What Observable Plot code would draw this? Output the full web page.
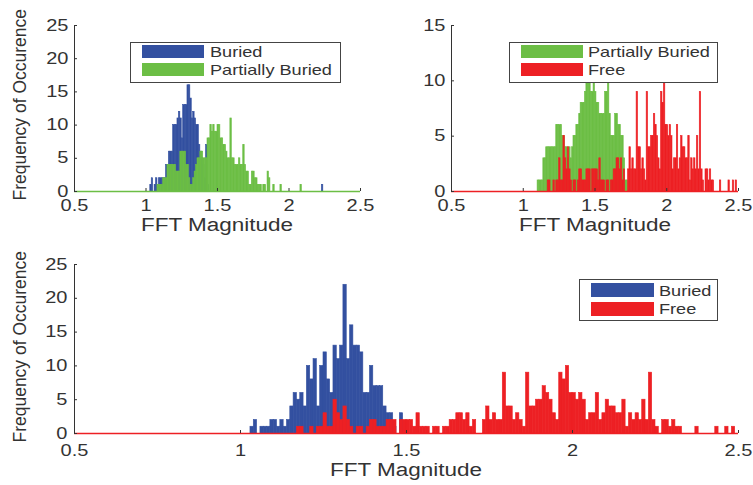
<!DOCTYPE html>
<html><head><meta charset="utf-8">
<script src="https://cdn.jsdelivr.net/npm/d3@7"></script>
<script src="https://cdn.jsdelivr.net/npm/@observablehq/plot@0.6"></script>
<style>
body{margin:0;background:#fff;}
#wrap{position:relative;width:753px;height:485px;overflow:hidden;font-family:"Liberation Sans",Arial,sans-serif;color:#333;background:#fff;}
.panel{position:absolute;}
.lab{position:absolute;white-space:nowrap;line-height:1;}
.legend{position:absolute;border:1px solid #444;background:#fff;box-sizing:border-box;}
.sw{position:absolute;}
.lt{position:absolute;white-space:nowrap;line-height:1;font-size:14.5px;transform-origin:left center;transform:scaleX(1.25);}
</style>
</head><body>
<div id="wrap"></div>
<script>
// ---------- data ----------
const BIN = 0.01;
const xTicks = [0.5, 1, 1.5, 2, 2.5];
const yTicks25 = [0, 5, 10, 15, 20, 25];
const yTicks15 = [0, 5, 10, 15];
const xLabel = "FFT Magnitude";
const yLabel = "Frequency of Occurence";
const colors = {"Buried": "#3350a0", "Partially Buried": "#6cbe45", "Free": "#ed2024"};

// top-left panel: Buried (first bin 1.03) and Partially Buried (first bin 1.08); isolated bins as [bin, count]
const tlBuriedStart = 1.03;
const tlBuriedCounts = [1,2,0,1,2,1,2,2,2,2,2,4,4,6,6,6,10,10,10,11,12,11,8,13,13,13,16,16,14,11,12,11,10,10,7,6,5,4,2,7,1];
const tlBuriedIsolated = [[2.23, 1]];
const tlPartialStart = 1.08;
const tlPartialCounts = [1,1,1,1,2,2,2,4,4,4,4,4,4,3,3,3,6,6,6,6,4,4,2,1,1,2,3,4,5,5,6,6,5,5,5,8,8,10,9,10,9,9,10,10,8,8,7,7,6,5,5,11,5,5,4,4,4,5,4,4,7,4,3,3,1,1,3,3,2,2,1,1,1,0,1,1,0,3,2,0,0,1,0,0,0,0,1];
const tlPartialIsolated = [[2.08, 1]];

// top-right panel: Partially Buried (first bin 1.10)
const trPartialStart = 1.10;
const trPartialCounts = [1,1,1,1,3,3,4,4,4,4,4,4,4,6,6,6,6,5,5,4,4,3,4,3,4,5,5,6,6,7,8,8,8,9,10,10,10,9,9,10,9,8,8,7,7,7,7,9,9,10,7,5,5,5,7,7,6,6,5,5,3,1,1];

// Free (first bin 1.17), shown in the top-right and bottom panels
const freeStart = 1.17;
const freeCounts = [1,1,0,0,1,0,1,1,3,1,1,5,3,2,4,2,1,0,1,1,0,1,2,2,1,1,1,2,2,2,0,2,2,2,2,1,3,1,1,1,0,1,1,0,1,1,2,2,3,3,2,3,1,2,0,0,2,4,2,3,2,2,9,4,
  4,2,3,2,1,9,4,4,5,5,7,6,5,3,2,9,8,10,6,6,5,6,5,2,3,3,6,2,3,5,4,4,3,3,5,1,3,2,3,2,5,2,9,2,1,0,2,2,1,2,1,1];
const freeIsolated = [[2.37, 1], [2.43, 1], [2.46, 1], [2.48, 1]];

// bottom panel: Buried (first bin 1.03)
const bBuriedStart = 1.03;
const bBuriedCounts = [1,2,0,1,1,1,2,2,1,2,1,2,4,6,5,6,4,10,8,11,4,10,12,8,6,13,11,13,22,11,16,13,13,12,6,6,10,7,7,7,4,3,3,1,0,3];

// ---------- helpers ----------
function bins(start, counts, isolated = []) {
  return counts.map((c, i) => ({x1: +(start + i * BIN).toFixed(2), count: c}))
    .concat(isolated.map(([x1, count]) => ({x1, count})))
    .filter(d => d.count > 0);
}

// MATLAB-like horizontally stretched text for tick labels (after the svg is in the DOM)
function stretchTicks(svg) {
  svg.querySelectorAll('g[aria-label="x-axis tick label"] text, g[aria-label="y-axis tick label"] text').forEach(t => {
    const parent = t.parentNode;
    const isY = parent.getAttribute("aria-label").startsWith("y");
    const r = t.getBoundingClientRect();
    const sx = isY ? r.right : (r.left + r.right) / 2, sy = (r.top + r.bottom) / 2;
    const m = parent.getScreenCTM().inverse();
    const p = new DOMPoint(sx, sy).matrixTransform(m);
    const g = document.createElementNS("http://www.w3.org/2000/svg", "g");
    g.setAttribute("transform", `translate(${p.x},${p.y}) scale(1.25,1) translate(${-p.x},${-p.y})`);
    parent.insertBefore(g, t);
    g.appendChild(t);
  });
}

const wrap = document.getElementById("wrap");

function panel(cfg) {
  const {left, top, width, height, ml, mr, mt, mb, ymax, yTicks, series, padX, padY} = cfg;
  const frameW = width - ml - mr, frameH = height - mt - mb;
  const marks = [];
  for (const s of series) {
    marks.push(Plot.rectY(bins(s.start, s.counts, s.isolated), {x1: "x1", x2: d => d.x1 + BIN, y: "count", fill: colors[s.name], stroke: colors[s.name], strokeWidth: 0.6}));
  }
  marks.push(Plot.ruleY([0], {stroke: colors[series[series.length - 1].name], strokeWidth: 1.5}));
  marks.push(Plot.ruleX([xTicks[0]], {stroke: "#333", strokeWidth: 1}));
  marks.push(Plot.tickX(xTicks, {x: d => d, stroke: "#333", insetTop: frameH - 3}));
  marks.push(Plot.tickY(yTicks, {y: d => d, stroke: "#333", insetRight: frameW - 3}));
  marks.push(Plot.axisX(xTicks, {tickSize: 0, tickPadding: padX, label: null, tickFormat: d => String(d)}));
  marks.push(Plot.axisY(yTicks, {tickSize: 0, tickPadding: padY, label: null, tickFormat: d => String(d)}));
  const svg = Plot.plot({
    width, height, marginLeft: ml, marginRight: mr, marginTop: mt, marginBottom: mb,
    x: {domain: [0.5, 2.5]}, y: {domain: [0, ymax]},
    style: {fontFamily: '"Liberation Sans", Arial, sans-serif', fontSize: "16px", color: "#333", background: "transparent", overflow: "visible"},
    marks
  });
  svg.classList.add("panel");
  svg.style.left = left + "px"; svg.style.top = top + "px";
  wrap.appendChild(svg);
  stretchTicks(svg);
}

function addText(text, x, y, size, rotate) {
  const d = document.createElement("div");
  d.className = "lab"; d.textContent = text; d.style.fontSize = size + "px";
  if (rotate) {
    d.style.width = "300px"; d.style.textAlign = "center"; d.style.height = size + "px";
    d.style.left = (x - 150) + "px"; d.style.top = (y - size / 2) + "px";
    d.style.transform = "rotate(-90deg)";
  } else {
    d.style.left = x + "px"; d.style.top = (y - 0.8465 * size) + "px";
    d.style.transform = "translateX(-50%) scaleX(1.25)";
  }
  wrap.appendChild(d);
}

function legend(names, box) {
  const L = document.createElement("div");
  L.className = "legend";
  Object.assign(L.style, {left: box.x + "px", top: box.y + "px", width: box.w + "px", height: box.h + "px"});
  wrap.appendChild(L);
  names.forEach((n, i) => {
    const s = document.createElement("div");
    s.className = "sw";
    Object.assign(s.style, {left: (box.sx - box.x - 1) + "px", top: (box.sy[i] - box.y - 1) + "px", width: box.sw + "px", height: box.sh + "px", background: colors[n]});
    L.appendChild(s);
    const t = document.createElement("div");
    t.className = "lt"; t.textContent = n;
    Object.assign(t.style, {left: (box.tx - box.x - 1) + "px", top: (box.ty[i] - 7.25 - box.y - 1) + "px"});
    L.appendChild(t);
  });
}

// ---------- panels ----------
panel({left: 0, top: 0, width: 375, height: 240, ml: 74, mr: 15, mt: 25, mb: 49, ymax: 25, yTicks: yTicks25, padX: 8, padY: 6,
  series: [{name: "Buried", start: tlBuriedStart, counts: tlBuriedCounts, isolated: tlBuriedIsolated},
           {name: "Partially Buried", start: tlPartialStart, counts: tlPartialCounts, isolated: tlPartialIsolated}]});
panel({left: 380, top: 0, width: 373, height: 240, ml: 71, mr: 15, mt: 25, mb: 49, ymax: 15, yTicks: yTicks15, padX: 8, padY: 6,
  series: [{name: "Partially Buried", start: trPartialStart, counts: trPartialCounts},
           {name: "Free", start: freeStart, counts: freeCounts, isolated: freeIsolated}]});
panel({left: 0, top: 240, width: 753, height: 245, ml: 74, mr: 15, mt: 24, mb: 52, ymax: 25, yTicks: yTicks25, padX: 11, padY: 7,
  series: [{name: "Buried", start: bBuriedStart, counts: bBuriedCounts},
           {name: "Free", start: freeStart, counts: freeCounts, isolated: freeIsolated}]});

addText(xLabel, 217, 231, 18);
addText(xLabel, 594.5, 231, 18);
addText(xLabel, 406, 476, 18);
addText(yLabel, 21, 105, 17.5, true);
addText(yLabel, 21, 347, 17.5, true);

legend(["Buried", "Partially Buried"], {x: 130, y: 42, w: 211, h: 41, sx: 142, sy: [45, 63], sw: 62, sh: 13, tx: 210, ty: [52, 70]});
legend(["Partially Buried", "Free"], {x: 509, y: 42, w: 209, h: 41, sx: 521, sy: [45, 63], sw: 62, sh: 13, tx: 588, ty: [52, 70]});
legend(["Buried", "Free"], {x: 579, y: 279, w: 139, h: 42, sx: 591, sy: [283, 302], sw: 63, sh: 14, tx: 659, ty: [291, 309]});
</script>
</body></html>
